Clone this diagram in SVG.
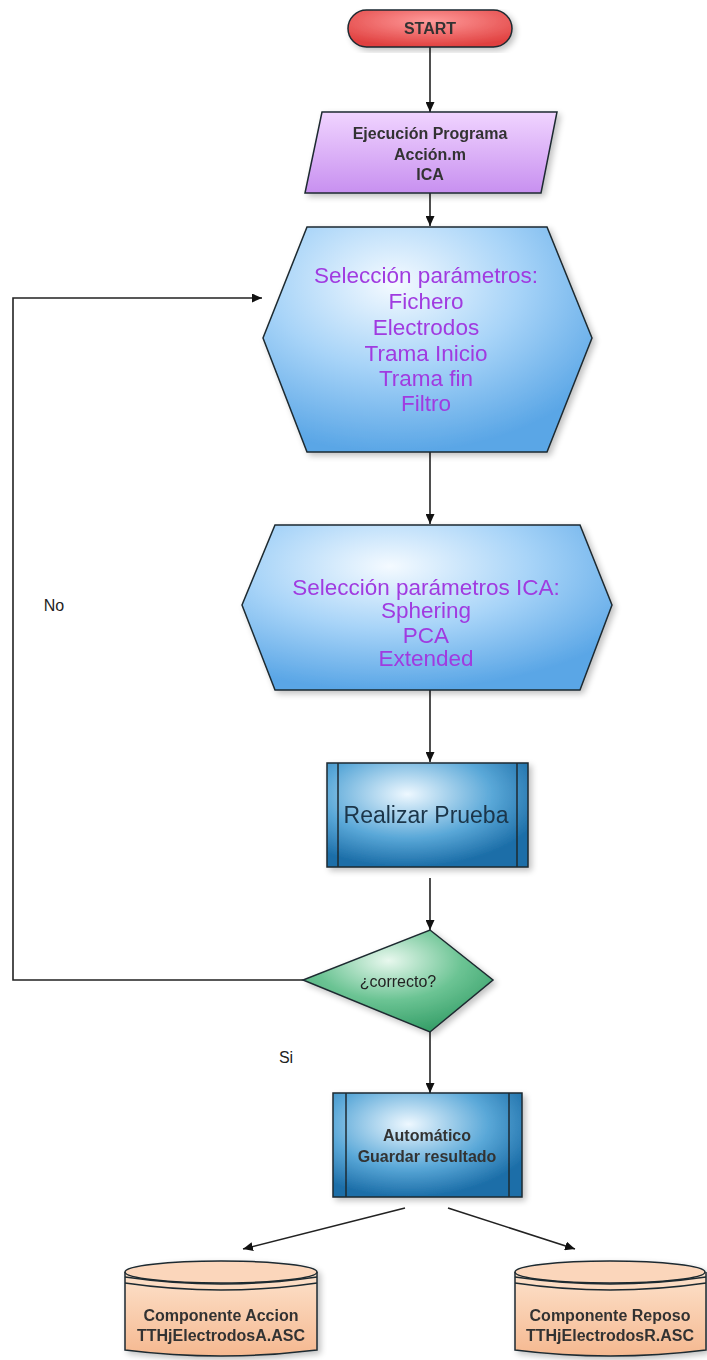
<svg xmlns="http://www.w3.org/2000/svg" width="707" height="1360" viewBox="0 0 707 1360">
<defs>
<radialGradient id="gRed" cx="50%" cy="30%" r="70%"><stop offset="0" stop-color="#ff9a9a"/><stop offset="1" stop-color="#e0403f"/></radialGradient>
<linearGradient id="gViolet" x1="0" y1="0" x2="0" y2="1"><stop offset="0" stop-color="#f0d4ff"/><stop offset="1" stop-color="#c890f0"/></linearGradient>
<radialGradient id="gHex" cx="40%" cy="25%" r="75%"><stop offset="0" stop-color="#f4faff"/><stop offset="0.5" stop-color="#a8d4f8"/><stop offset="1" stop-color="#5aa6e6"/></radialGradient>
<radialGradient id="gBox" cx="40%" cy="30%" r="70%"><stop offset="0" stop-color="#eef8ff"/><stop offset="0.6" stop-color="#5aa8d8"/><stop offset="1" stop-color="#1c6ea8"/></radialGradient>
<radialGradient id="gGreen" cx="45%" cy="30%" r="70%"><stop offset="0" stop-color="#e8f8ee"/><stop offset="0.55" stop-color="#6cc494"/><stop offset="1" stop-color="#38a06a"/></radialGradient>
<linearGradient id="gPeach" x1="0" y1="0" x2="0" y2="1"><stop offset="0" stop-color="#fde2cc"/><stop offset="1" stop-color="#f5b890"/></linearGradient>
<filter id="sh" x="-10%" y="-10%" width="125%" height="125%"><feGaussianBlur in="SourceAlpha" stdDeviation="3"/><feOffset dx="3" dy="3"/><feComponentTransfer><feFuncA type="linear" slope="0.25"/></feComponentTransfer><feMerge><feMergeNode/><feMergeNode in="SourceGraphic"/></feMerge></filter>
<marker id="arr" viewBox="0 0 10 10" refX="10" refY="5" markerWidth="10" markerHeight="9" orient="auto" markerUnits="userSpaceOnUse" preserveAspectRatio="none"><path d="M0,0 L10,5 L0,10 z" fill="#111"/></marker>
<style>
.sk{stroke:#1e2a30;stroke-width:1.5}
.t{font-family:"Liberation Sans",Arial,sans-serif;text-anchor:middle}
.sm{font-size:16px;font-weight:bold;fill:#333}
.lb{font-size:16px;fill:#222}
.pu{font-size:22.5px;fill:#a03ae0}
.bl{font-size:23px;fill:#1a3448}
.ln{fill:none;stroke:#222;stroke-width:1.6}
</style>
</defs>
<g id="connectors">
<line class="ln" x1="430" y1="47" x2="430" y2="112" marker-end="url(#arr)"/>
<line class="ln" x1="430" y1="193" x2="430" y2="226" marker-end="url(#arr)"/>
<line class="ln" x1="430" y1="452" x2="430" y2="524" marker-end="url(#arr)"/>
<line class="ln" x1="430" y1="690" x2="430" y2="762" marker-end="url(#arr)"/>
<line class="ln" x1="430" y1="878" x2="430" y2="930" marker-end="url(#arr)"/>
<polyline class="ln" points="303,980 13,980 13,298 262,298" marker-end="url(#arr)"/>
<line class="ln" x1="430" y1="1032" x2="430" y2="1093" marker-end="url(#arr)"/>
<line class="ln" x1="405" y1="1208" x2="243" y2="1249" marker-end="url(#arr)"/>
<line class="ln" x1="448" y1="1208" x2="575" y2="1249" marker-end="url(#arr)"/>
<text class="t lb" x="54" y="611">No</text>
<text class="t lb" x="286" y="1063">Si</text>
</g>
<g id="start" filter="url(#sh)">
<rect class="sk" x="348" y="10" width="164" height="37" rx="18.5" fill="url(#gRed)"/>
<text class="t sm" x="430" y="34">START</text>
</g>
<g id="ejecucion" filter="url(#sh)">
<polygon class="sk" points="322,112 557,112 541,193 305,193" fill="url(#gViolet)"/>
<text class="t sm" x="430" y="139">Ejecución Programa</text>
<text class="t sm" x="430" y="160">Acción.m</text>
<text class="t sm" x="430" y="180">ICA</text>
</g>
<g id="seleccion" filter="url(#sh)">
<polygon class="sk" points="307,227 547,227 592,338 547,452 307,452 263,338" fill="url(#gHex)"/>
<text class="t pu" x="426" y="283">Selección parámetros:</text>
<text class="t pu" x="426" y="309">Fichero</text>
<text class="t pu" x="426" y="335">Electrodos</text>
<text class="t pu" x="426" y="361">Trama Inicio</text>
<text class="t pu" x="426" y="386">Trama fin</text>
<text class="t pu" x="426" y="411">Filtro</text>
</g>
<g id="seleccionICA" filter="url(#sh)">
<polygon class="sk" points="275,525 580,525 612,605 580,690 275,690 242,605" fill="url(#gHex)"/>
<text class="t pu" x="426" y="595">Selección parámetros ICA:</text>
<text class="t pu" x="426" y="618">Sphering</text>
<text class="t pu" x="426" y="643">PCA</text>
<text class="t pu" x="426" y="666">Extended</text>
</g>
<g id="realizar" filter="url(#sh)">
<rect class="sk" x="327" y="763" width="201" height="104" fill="url(#gBox)"/>
<line class="sk" x1="338" y1="763" x2="338" y2="867"/>
<line class="sk" x1="517" y1="763" x2="517" y2="867"/>
<text class="t bl" x="426" y="823">Realizar Prueba</text>
</g>
<g id="correcto" filter="url(#sh)">
<polygon class="sk" points="430,930 493,980 430,1032 303,980" fill="url(#gGreen)"/>
<text class="t lb" x="398" y="987" font-size="15.5">¿correcto?</text>
</g>
<g id="automatico" filter="url(#sh)">
<rect class="sk" x="333" y="1093" width="189" height="104" fill="url(#gBox)"/>
<line class="sk" x1="346" y1="1093" x2="346" y2="1197"/>
<line class="sk" x1="509" y1="1093" x2="509" y2="1197"/>
<text class="t sm" x="427" y="1141" fill="#1a2a36">Automático</text>
<text class="t sm" x="427" y="1162" fill="#1a2a36">Guardar resultado</text>
</g>
<g id="accion" filter="url(#sh)">
<path class="sk" d="M125,1272 L125,1350 Q221,1362 317,1350 L317,1272" fill="url(#gPeach)"/>
<ellipse class="sk" cx="221" cy="1272" rx="96" ry="11" fill="#fbd6bb"/>
<path class="sk" fill="none" d="M125,1277 Q221,1291 317,1277 M125,1283 Q221,1297 317,1283"/>
<text class="t sm" x="221" y="1321">Componente Accion</text>
<text class="t sm" x="221" y="1341">TTHjElectrodosA.ASC</text>
</g>
<g id="reposo" filter="url(#sh)">
<path class="sk" d="M515,1272 L515,1350 Q610,1362 706,1350 L706,1272" fill="url(#gPeach)"/>
<ellipse class="sk" cx="610" cy="1272" rx="95" ry="11" fill="#fbd6bb"/>
<path class="sk" fill="none" d="M515,1277 Q610,1291 706,1277 M515,1283 Q610,1297 706,1283"/>
<text class="t sm" x="610" y="1321">Componente Reposo</text>
<text class="t sm" x="610" y="1341">TTHjElectrodosR.ASC</text>
</g>
</svg>
